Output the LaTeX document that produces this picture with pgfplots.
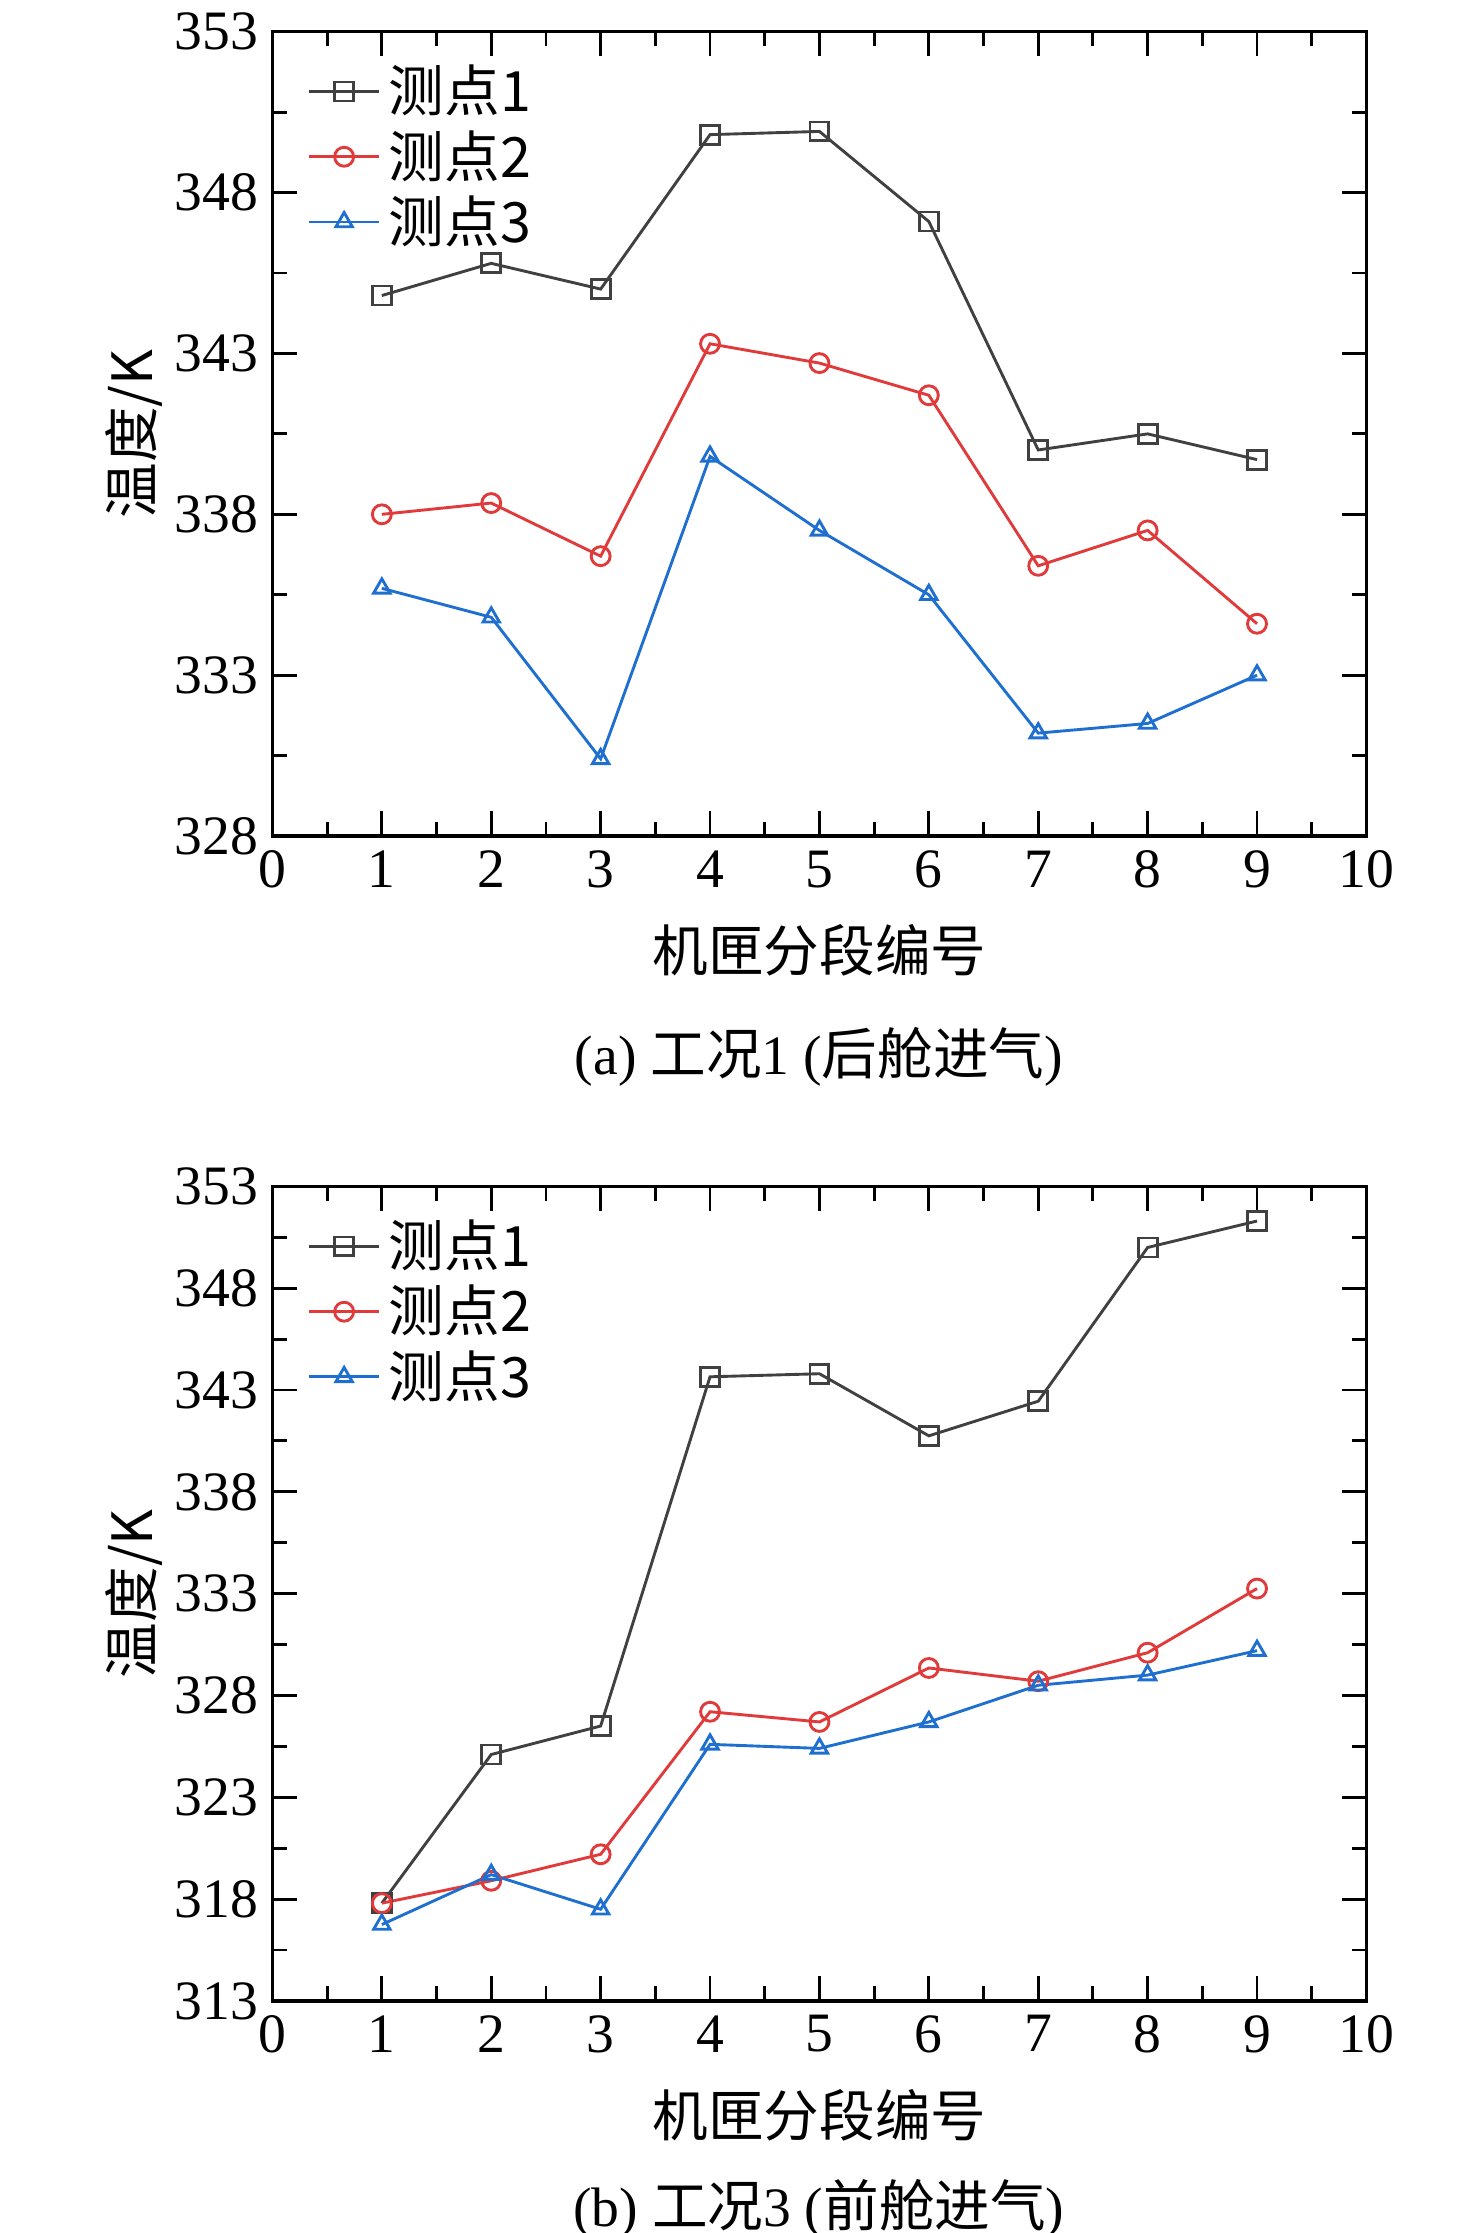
\documentclass[border=0pt]{standalone}
\usepackage{pgfplots}
\pgfplotsset{compat=1.18}
\usepackage{fontspec}
\setmainfont{Liberation Serif}
\newfontfamily\cjk{Noto Sans CJK SC}
\definecolor{cA}{HTML}{404040}
\definecolor{cB}{HTML}{E03A3A}
\definecolor{cC}{HTML}{1F6FD0}
\pgfplotsset{
  myax/.style={
    scale only axis, width=265.6pt, xmin=0, xmax=10, xtick={0,...,10},
    minor x tick num=1, minor y tick num=1,
    tick align=inside, major tick length=6pt, minor tick length=3.5pt,
    tick style={black, line width=0.7pt}, axis line style={line width=0.8pt},
    tick label style={font=\fontsize{13.5}{16}\selectfont},
    label style={font=\fontsize{13.5}{16}\selectfont\cjk},
    /pgf/number format/assume math mode=true,
    xlabel={机匣分段编号}, ylabel={温度/K},
    xlabel style={yshift=-2pt}, ylabel style={yshift=-4pt},
    legend style={draw=none, fill=none, at={(0.02,0.98)}, anchor=north west,
      font=\fontsize{13.5}{16}\selectfont\cjk, row sep=-1pt},
    legend cell align=left,
    legend image code/.code={\draw[mark repeat=2,mark phase=2] plot coordinates {(0cm,0cm)(0.3cm,0cm)(0.6cm,0cm)};},
    every axis plot/.append style={line width=0.7pt, mark size=2.3pt, mark options={solid, line width=0.7pt, fill=white}},
  }
}
\begin{document}
\begin{tikzpicture}
\useasboundingbox (0,0) rectangle (358.4pt,542.15pt);
\begin{axis}[myax, at={(66.15pt,339.15pt)}, anchor=south west, height=195.3pt,
  ymin=328, ymax=353, ytick={328,333,...,353}]
\addplot[cA, mark=square] coordinates {(1,344.8)(2,345.8)(3,345.0)(4,349.8)(5,349.9)(6,347.1)(7,340.0)(8,340.5)(9,339.7)};
\addplot[cB, mark=o] coordinates {(1,338.0)(2,338.35)(3,336.7)(4,343.3)(5,342.7)(6,341.7)(7,336.4)(8,337.5)(9,334.6)};
\addplot[cC, mark=triangle] coordinates {(1,335.7)(2,334.8)(3,330.4)(4,339.8)(5,337.5)(6,335.5)(7,331.2)(8,331.5)(9,333.0)};
\legend{测点1,测点2,测点3}
\end{axis}
\node[font=\fontsize{13.5}{16}\selectfont] at (198.8pt,285.6pt) {(a) {\cjk 工况}1 ({\cjk 后舱进气})};
\begin{axis}[myax, at={(66.15pt,56.35pt)}, anchor=south west, height=197.75pt,
  ymin=313, ymax=353, ytick={313,318,...,353}]
\addplot[cA, mark=square] coordinates {(1,317.8)(2,325.1)(3,326.5)(4,343.65)(5,343.8)(6,340.75)(7,342.45)(8,350.0)(9,351.3)};
\addplot[cB, mark=o] coordinates {(1,317.8)(2,318.9)(3,320.2)(4,327.2)(5,326.7)(6,329.35)(7,328.7)(8,330.1)(9,333.25)};
\addplot[cC, mark=triangle] coordinates {(1,316.75)(2,319.2)(3,317.5)(4,325.6)(5,325.4)(6,326.7)(7,328.5)(8,329.0)(9,330.2)};
\legend{测点1,测点2,测点3}
\end{axis}
\node[font=\fontsize{13.5}{16}\selectfont, anchor=base] at (198.8pt,1.5pt) {(b) {\cjk 工况}3 ({\cjk 前舱进气})};
\end{tikzpicture}
\end{document}
